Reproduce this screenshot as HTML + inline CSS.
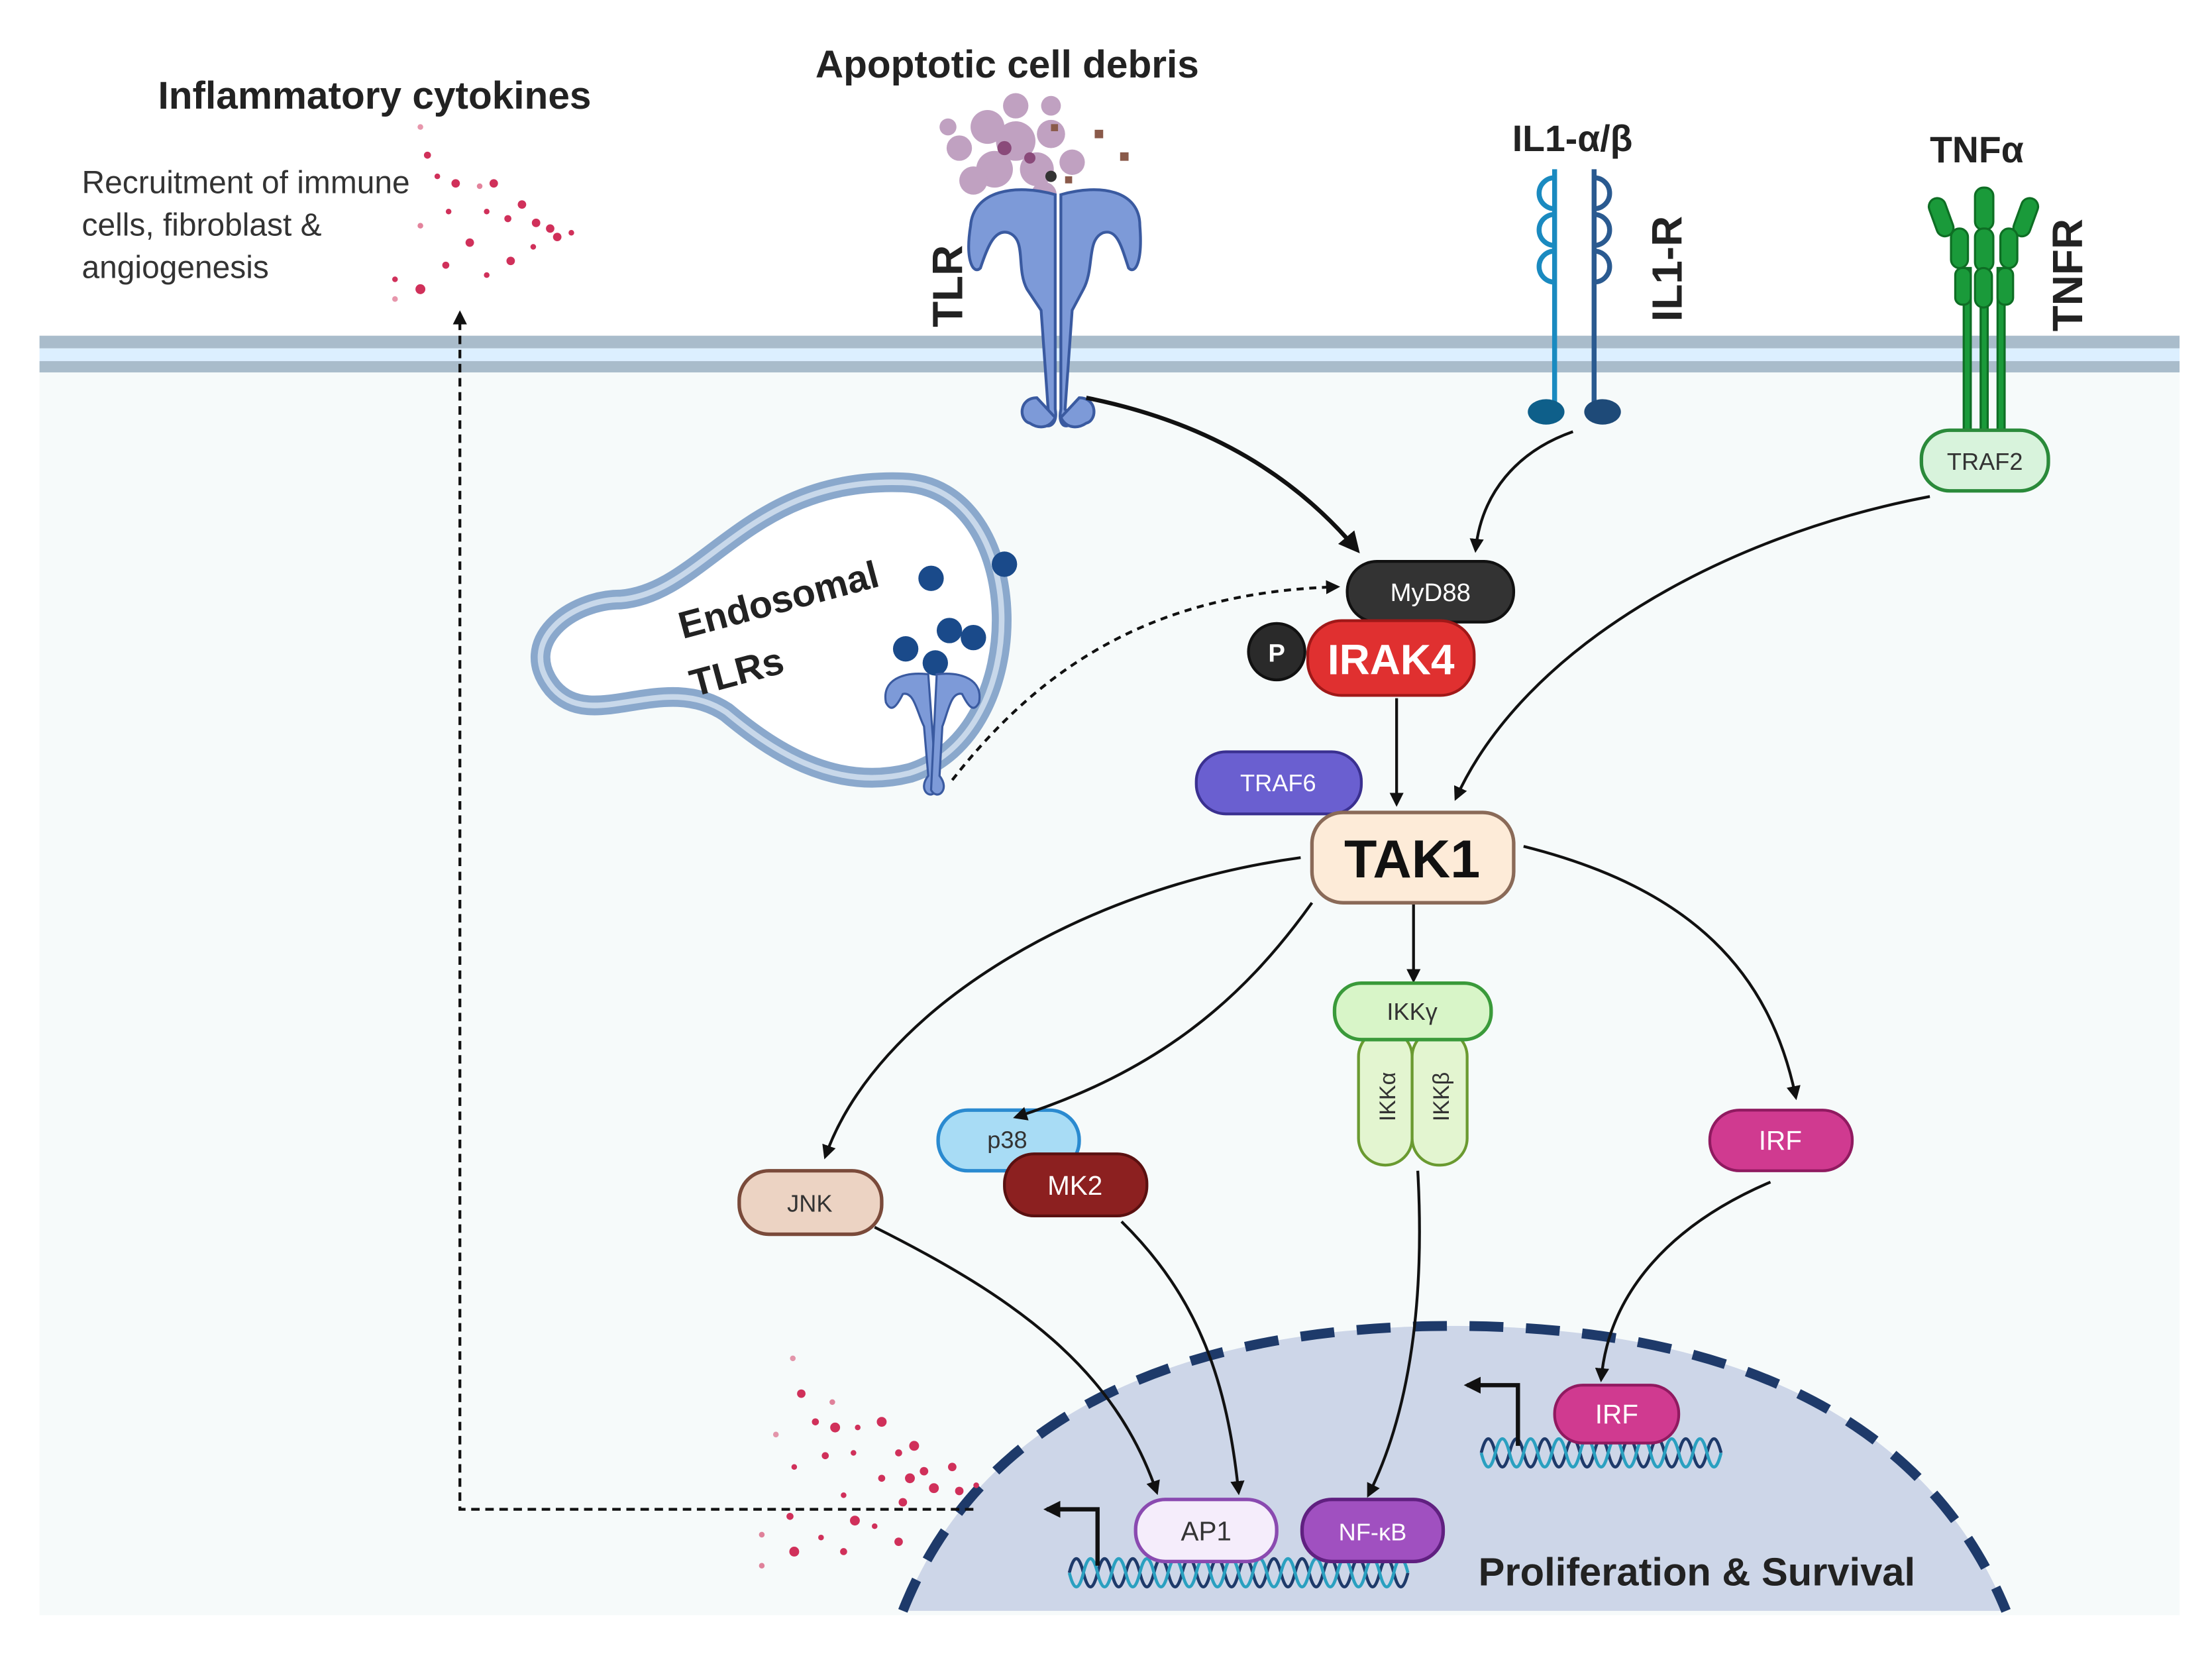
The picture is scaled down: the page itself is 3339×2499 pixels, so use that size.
<!DOCTYPE html>
<html><head><meta charset="utf-8"><style>
html,body{margin:0;padding:0;background:#fff;}
svg{display:block;}
text{font-family:"Liberation Sans",sans-serif;}
</style></head><body>
<svg width="3339" height="2499" viewBox="0 0 1568 1174" preserveAspectRatio="none" xmlns="http://www.w3.org/2000/svg">
<defs>
<marker id="ah" viewBox="0 0 10 10" refX="8" refY="5" markerWidth="5" markerHeight="5" orient="auto"><path d="M0,0 L10,5 L0,10 Z" fill="#111"/></marker>
<marker id="ah2" viewBox="0 0 10 10" refX="8" refY="5" markerWidth="4" markerHeight="4" orient="auto"><path d="M0,0 L10,5 L0,10 Z" fill="#111"/></marker>
</defs>
<rect width="1568" height="1174" fill="#fff"/>
<rect x="28" y="260" width="1517" height="885" fill="#f6fafa"/>
<rect x="28" y="238" width="1517" height="9" fill="#a9bccb"/>
<rect x="28" y="247" width="1517" height="9" fill="#dcefff"/>
<rect x="28" y="256" width="1517" height="8" fill="#a9bccb"/>
<path d="M640,1142 C700,990 860,940 1030,940 C1200,940 1360,990 1422,1142 Z" fill="#cdd6e8"/>
<path d="M640,1142 C700,990 860,940 1030,940 C1200,940 1360,990 1422,1142" fill="none" stroke="#1e3a6a" stroke-width="7" stroke-dasharray="24,16"/>

<text x="112" y="77" font-size="27.5" font-weight="bold" fill="#222">Inflammatory cytokines</text>
<text x="58" y="137" font-size="22.5" fill="#333">Recruitment of immune</text>
<text x="58" y="167" font-size="22.5" fill="#333">cells, fibroblast  &amp;</text>
<text x="58" y="197" font-size="22.5" fill="#333">angiogenesis</text>
<text x="578" y="55" font-size="27.5" font-weight="bold" fill="#222">Apoptotic cell debris</text>
<text x="1072" y="107" font-size="26" font-weight="bold" fill="#222">IL1-α/β</text>
<text x="1368" y="115" font-size="26" font-weight="bold" fill="#222">TNFα</text>
<text transform="translate(682,232) rotate(-90)" font-size="30" font-weight="bold" fill="#222">TLR</text>
<text transform="translate(1192,228) rotate(-90)" font-size="30" font-weight="bold" fill="#222">IL1-R</text>
<text transform="translate(1476,235) rotate(-90)" font-size="30" font-weight="bold" fill="#222">TNFR</text>

<g fill="#d0305a">
<circle cx="298" cy="90" r="2" opacity=".5"/><circle cx="303" cy="110" r="2.5"/><circle cx="310" cy="125" r="2"/><circle cx="323" cy="130" r="3"/><circle cx="340" cy="132" r="2" opacity=".6"/><circle cx="350" cy="130" r="3"/><circle cx="370" cy="145" r="3"/><circle cx="318" cy="150" r="2"/><circle cx="345" cy="150" r="2"/><circle cx="360" cy="155" r="2.5"/><circle cx="380" cy="158" r="3"/><circle cx="390" cy="162" r="3"/><circle cx="395" cy="168" r="3"/><circle cx="405" cy="165" r="2"/><circle cx="298" cy="160" r="2" opacity=".6"/><circle cx="333" cy="172" r="3"/><circle cx="362" cy="185" r="3"/><circle cx="378" cy="175" r="2"/><circle cx="316" cy="188" r="2.5"/><circle cx="345" cy="195" r="2"/><circle cx="298" cy="205" r="3.5"/><circle cx="280" cy="198" r="2"/><circle cx="280" cy="212" r="2" opacity=".5"/>
</g>
<g fill="#a67aa8" opacity=".7">
<circle cx="700" cy="90" r="12"/><circle cx="720" cy="100" r="14"/><circle cx="745" cy="95" r="10"/><circle cx="680" cy="105" r="9"/><circle cx="705" cy="120" r="13"/><circle cx="735" cy="120" r="12"/><circle cx="760" cy="115" r="9"/><circle cx="690" cy="128" r="10"/><circle cx="720" cy="75" r="9"/><circle cx="745" cy="75" r="7"/><circle cx="672" cy="90" r="6"/><circle cx="740" cy="138" r="9"/>
</g>
<g fill="#8a4a7a"><circle cx="712" cy="105" r="5"/><circle cx="730" cy="112" r="4"/></g>
<g fill="#8a5a4a"><rect x="776" y="92" width="6" height="6"/><rect x="794" y="108" width="6" height="6"/><rect x="755" y="125" width="5" height="5"/><rect x="745" y="88" width="5" height="5"/></g>
<circle cx="745" cy="125" r="4" fill="#333"/>
<g fill="#7d9ad8" stroke="#3a5aa0" stroke-width="2">
<path d="M748,138 C720,130 690,135 688,160 C684,185 690,195 695,190 C700,175 705,162 715,165 C728,170 720,190 728,205 L738,220 L743,290 L738,300 C744,305 750,300 748,290 Z"/>
<path d="M752,138 C780,130 808,135 808,160 C810,185 805,195 800,190 C795,175 792,162 782,165 C770,170 776,190 768,205 L760,220 L755,290 L760,300 C754,305 750,300 752,290 Z"/>
<path d="M735,282 C722,282 722,298 730,300 C736,304 744,304 748,296 Z"/>
<path d="M765,282 C778,282 778,298 770,300 C764,304 756,304 752,296 Z"/>
</g>
<g fill="none" stroke-width="3.5">
<path d="M1102,120 L1102,290 M1102,126 a11,11 0 1 0 0,22 M1102,152 a11,11 0 1 0 0,22 M1102,178 a11,11 0 1 0 0,22" stroke="#1a8ac0"/>
<path d="M1130,120 L1130,290 M1130,126 a11,11 0 1 1 0,22 M1130,152 a11,11 0 1 1 0,22 M1130,178 a11,11 0 1 1 0,22" stroke="#2a5a90"/>
</g>
<ellipse cx="1096" cy="292" rx="13" ry="9" fill="#0e5f8a"/>
<ellipse cx="1136" cy="292" rx="13" ry="9" fill="#1e4a78"/>
<g fill="#1a9a3a" stroke="#0e6e24" stroke-width="1.5">
<rect x="1392" y="190" width="5" height="115"/><rect x="1404" y="190" width="5" height="115"/><rect x="1416" y="190" width="5" height="115"/>
<rect x="1370" y="140" width="12" height="28" rx="6" transform="rotate(-20 1376 154)"/>
<rect x="1400" y="133" width="13" height="30" rx="6"/>
<rect x="1430" y="140" width="12" height="28" rx="6" transform="rotate(20 1436 154)"/>
<rect x="1383" y="162" width="12" height="28" rx="6"/><rect x="1400" y="162" width="13" height="30" rx="6"/><rect x="1418" y="162" width="12" height="28" rx="6"/>
<rect x="1386" y="190" width="11" height="26" rx="5"/><rect x="1400" y="190" width="12" height="28" rx="6"/><rect x="1416" y="190" width="11" height="26" rx="5"/>
</g>
<rect x="1362" y="305" width="90" height="43" rx="20" fill="#d8f3dc" stroke="#2a8a3a" stroke-width="2.5"/>
<text x="1407" y="333" font-size="17" text-anchor="middle" fill="#333">TRAF2</text>

<path d="M640,342 C730,345 735,520 645,548 C590,562 545,530 515,505 C470,475 420,520 392,488 C365,455 405,425 440,425 C500,420 530,338 640,342 Z" fill="#fff" stroke="#8aa8cc" stroke-width="14"/>
<path d="M640,342 C730,345 735,520 645,548 C590,562 545,530 515,505 C470,475 420,520 392,488 C365,455 405,425 440,425 C500,420 530,338 640,342 Z" fill="none" stroke="#c8d8ea" stroke-width="4"/>
<text transform="translate(484,453) rotate(-15)" font-size="27" font-weight="bold" fill="#222">Endosomal</text>
<text transform="translate(492,494) rotate(-15)" font-size="27" font-weight="bold" fill="#222">TLRs</text>
<g fill="#1a4a8a"><circle cx="660" cy="410" r="9"/><circle cx="712" cy="400" r="9"/><circle cx="673" cy="447" r="9"/><circle cx="690" cy="452" r="9"/><circle cx="642" cy="460" r="9"/><circle cx="663" cy="470" r="9"/></g>
<g fill="#7d9ad8" stroke="#3a5aa0" stroke-width="1.5">
<path d="M658,478 C640,476 625,482 628,498 C632,506 636,500 640,492 C648,490 650,505 655,515 L658,550 C650,560 660,568 664,560 Z"/>
<path d="M664,478 C682,476 697,482 694,498 C690,506 686,500 682,492 C674,490 672,505 668,515 L666,550 C674,560 664,568 660,560 Z"/>
</g>

<g fill="none" stroke="#111" stroke-width="2">
<path d="M770,282 C860,300 920,340 962,390" stroke-width="3" marker-end="url(#ah)"/>
<path d="M1115,306 C1075,320 1050,350 1046,390" marker-end="url(#ah)"/>
<path d="M1368,352 C1220,380 1080,460 1032,566" marker-end="url(#ah)"/>
<path d="M990,495 L990,570" marker-end="url(#ah)"/>
<path d="M675,553 C740,470 820,420 948,416" stroke-dasharray="5,4" marker-end="url(#ah)"/>
<path d="M922,608 C760,630 620,720 585,820" marker-end="url(#ah)"/>
<path d="M620,870 C720,920 790,970 820,1058" marker-end="url(#ah)"/>
<path d="M795,866 C850,920 870,980 878,1058" marker-end="url(#ah)"/>
<path d="M1005,830 C1010,920 1000,1000 970,1060" marker-end="url(#ah)"/>
<path d="M1255,838 C1180,870 1140,920 1135,978" marker-end="url(#ah)"/>
<path d="M1002,640 L1002,695" marker-end="url(#ah)"/>
<path d="M1080,600 C1200,630 1255,690 1273,778" marker-end="url(#ah)"/>
<path d="M690,1070 L326,1070 L326,222" stroke-dasharray="6,4" marker-end="url(#ah)"/>
</g>
<g fill="#d0305a">
<circle cx="562" cy="963" r="2" opacity=".5"/><circle cx="568" cy="988" r="3"/><circle cx="590" cy="994" r="2" opacity=".6"/><circle cx="578" cy="1008" r="2.5"/><circle cx="592" cy="1012" r="3.5"/><circle cx="608" cy="1012" r="2"/><circle cx="625" cy="1008" r="3.5"/><circle cx="550" cy="1017" r="2" opacity=".5"/><circle cx="648" cy="1025" r="3.5"/><circle cx="585" cy="1032" r="2.5"/><circle cx="605" cy="1030" r="2"/><circle cx="637" cy="1030" r="2.5"/><circle cx="655" cy="1043" r="3"/><circle cx="675" cy="1040" r="3"/><circle cx="563" cy="1040" r="2"/><circle cx="625" cy="1048" r="2.5"/><circle cx="645" cy="1048" r="3.5"/><circle cx="662" cy="1055" r="3.5"/><circle cx="680" cy="1057" r="3"/><circle cx="692" cy="1053" r="2"/><circle cx="598" cy="1060" r="2"/><circle cx="640" cy="1065" r="3"/><circle cx="606" cy="1078" r="3.5"/><circle cx="560" cy="1075" r="2.5"/><circle cx="582" cy="1090" r="2"/><circle cx="620" cy="1082" r="2"/><circle cx="637" cy="1093" r="3"/><circle cx="540" cy="1088" r="2" opacity=".6"/><circle cx="598" cy="1100" r="2.5"/><circle cx="563" cy="1100" r="3.5"/><circle cx="540" cy="1110" r="2" opacity=".6"/>
</g>

<g fill="none" stroke-width="2.2">
<path d="M758,1115 q5,-20 10,0 t10,0 t10,0 t10,0 t10,0 t10,0 t10,0 t10,0 t10,0 t10,0 t10,0 t10,0 t10,0 t10,0 t10,0 t10,0 t10,0 t10,0 t10,0 t10,0 t10,0 t10,0 t10,0 t10,0" stroke="#1e3a6a"/>
<path d="M758,1115 q5,20 10,0 t10,0 t10,0 t10,0 t10,0 t10,0 t10,0 t10,0 t10,0 t10,0 t10,0 t10,0 t10,0 t10,0 t10,0 t10,0 t10,0 t10,0 t10,0 t10,0 t10,0 t10,0 t10,0 t10,0" stroke="#2aa0c0"/>
<path d="M1050,1030 q5,-20 10,0 t10,0 t10,0 t10,0 t10,0 t10,0 t10,0 t10,0 t10,0 t10,0 t10,0 t10,0 t10,0 t10,0 t10,0 t10,0 t10,0" stroke="#1e3a6a"/>
<path d="M1050,1030 q5,20 10,0 t10,0 t10,0 t10,0 t10,0 t10,0 t10,0 t10,0 t10,0 t10,0 t10,0 t10,0 t10,0 t10,0 t10,0 t10,0 t10,0" stroke="#2aa0c0"/>
<path d="M778,1110 L778,1070 L742,1070" stroke="#111" stroke-width="3" marker-end="url(#ah2)"/>
<path d="M1076,1025 L1076,982 L1040,982" stroke="#111" stroke-width="3" marker-end="url(#ah2)"/>
</g>

<rect x="955" y="398" width="118" height="43" rx="21" fill="#333" stroke="#111" stroke-width="2"/>
<text x="1014" y="426" font-size="18" text-anchor="middle" fill="#fff">MyD88</text>
<circle cx="905" cy="462" r="20" fill="#2a2a2a" stroke="#111" stroke-width="2"/>
<text x="905" y="469" font-size="18" font-weight="bold" text-anchor="middle" fill="#fff">P</text>
<rect x="927" y="440" width="118" height="53" rx="24" fill="#e03030" stroke="#a01818" stroke-width="2"/>
<text x="986" y="478" font-size="30" font-weight="bold" text-anchor="middle" fill="#fff">IRAK4</text>
<rect x="848" y="533" width="117" height="44" rx="21" fill="#6a5fd0" stroke="#3a3090" stroke-width="2"/>
<text x="906" y="561" font-size="17" text-anchor="middle" fill="#fff">TRAF6</text>
<rect x="930" y="576" width="143" height="64" rx="22" fill="#fdebd8" stroke="#8a6a58" stroke-width="2.5"/>
<text x="1001" y="622" font-size="38" font-weight="bold" text-anchor="middle" fill="#111">TAK1</text>
<rect x="963" y="730" width="38" height="96" rx="19" fill="#e3f5d0" stroke="#6a9a30" stroke-width="2"/>
<rect x="1001" y="730" width="39" height="96" rx="19" fill="#e3f5d0" stroke="#6a9a30" stroke-width="2"/>
<text transform="translate(989,795) rotate(-90)" font-size="16" fill="#333">IKKα</text>
<text transform="translate(1027,795) rotate(-90)" font-size="16" fill="#333">IKKβ</text>
<rect x="946" y="697" width="111" height="40" rx="19" fill="#d8f5c8" stroke="#3a9a3a" stroke-width="2.5"/>
<text x="1001" y="723" font-size="17" text-anchor="middle" fill="#333">IKKγ</text>
<rect x="1212" y="787" width="101" height="43" rx="21" fill="#d03a90" stroke="#901a60" stroke-width="2"/>
<text x="1262" y="815" font-size="19" text-anchor="middle" fill="#fff">IRF</text>
<rect x="665" y="787" width="100" height="43" rx="21" fill="#a8dcf5" stroke="#2a8ad0" stroke-width="2.5"/>
<text x="714" y="814" font-size="17" text-anchor="middle" fill="#333">p38</text>
<path d="M930,640 C880,710 820,760 720,792" fill="none" stroke="#111" stroke-width="2" marker-end="url(#ah)"/>
<rect x="712" y="818" width="101" height="44" rx="21" fill="#8c2020" stroke="#5a1010" stroke-width="2"/>
<text x="762" y="847" font-size="19" text-anchor="middle" fill="#fff">MK2</text>
<rect x="524" y="830" width="101" height="45" rx="21" fill="#ecd3c3" stroke="#7a4a3a" stroke-width="2.5"/>
<text x="574" y="859" font-size="17" text-anchor="middle" fill="#333">JNK</text>
<rect x="805" y="1063" width="100" height="44" rx="21" fill="#f5edfb" stroke="#8a4ab0" stroke-width="2.5"/>
<text x="855" y="1092" font-size="19" text-anchor="middle" fill="#333">AP1</text>
<rect x="923" y="1063" width="100" height="44" rx="21" fill="#a050c0" stroke="#602080" stroke-width="2.5"/>
<text x="973" y="1092" font-size="17" text-anchor="middle" fill="#fff">NF-κB</text>
<rect x="1102" y="982" width="88" height="41" rx="20" fill="#d03a90" stroke="#901a60" stroke-width="2"/>
<text x="1146" y="1009" font-size="19" text-anchor="middle" fill="#fff">IRF</text>
<text x="1048" y="1124" font-size="28" font-weight="bold" fill="#222">Proliferation &amp; Survival</text>
</svg>
</body></html>
